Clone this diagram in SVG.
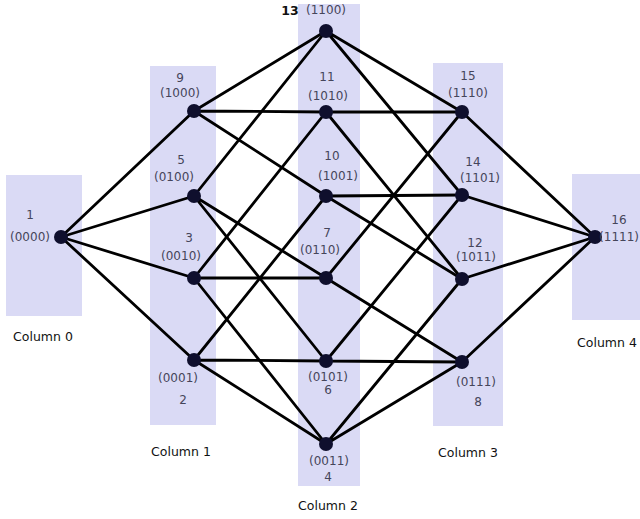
<svg xmlns="http://www.w3.org/2000/svg" width="640" height="519" viewBox="0 0 640 519">
<style>
.col{fill:#dadaf5}
.e{stroke:#000;stroke-width:2.8;fill:none;stroke-linecap:round}
.n{fill:#0f0f2d}
.t{font-family:"DejaVu Sans",sans-serif;font-size:12px;fill:#45455a;text-anchor:middle}
.c{font-family:"DejaVu Sans",sans-serif;font-size:12.5px;fill:#111;text-anchor:middle}
</style>
<rect width="640" height="519" fill="#fff"/>
<g id="columns">
<rect class="col" x="6" y="175" width="76" height="141"/>
<rect class="col" x="150" y="66" width="66" height="359"/>
<rect class="col" x="298" y="4" width="62" height="482"/>
<rect class="col" x="433" y="63" width="70" height="363"/>
<rect class="col" x="572" y="174" width="68" height="146"/>
</g>
<g id="connectors">
<path class="e" d="M61,237 L194,111 M61,237 L194,196 M61,237 L194,278 M61,237 L194,360"/>
<path class="e" d="M194,111 L326,31 M194,111 L326,112 M194,111 L326,196"/>
<path class="e" d="M194,196 L326,31 M194,196 L326,278 M194,196 L326,361"/>
<path class="e" d="M194,278 L326,112 M194,278 L326,278 M194,278 L326,444"/>
<path class="e" d="M194,360 L326,196 M194,360 L326,361 M194,360 L326,444"/>
<path class="e" d="M326,31 L462,112 M326,31 L462,195"/>
<path class="e" d="M326,112 L462,112 M326,112 L462,279"/>
<path class="e" d="M326,196 L462,195 M326,196 L462,279"/>
<path class="e" d="M326,278 L462,112 M326,278 L462,362"/>
<path class="e" d="M326,361 L462,195 M326,361 L462,362"/>
<path class="e" d="M326,444 L462,279 M326,444 L462,362"/>
<path class="e" d="M462,112 L595,237 M462,195 L595,237 M462,279 L595,237 M462,362 L595,237"/>
</g>
<g id="n1"><circle class="n" cx="61" cy="237" r="7"/><text class="t" x="30" y="219">1</text><text class="t" x="30" y="241">(0000)</text></g>
<g id="n9"><circle class="n" cx="194" cy="111" r="7"/><text class="t" x="180" y="82">9</text><text class="t" x="180" y="97">(1000)</text></g>
<g id="n5"><circle class="n" cx="194" cy="196" r="7"/><text class="t" x="181" y="164">5</text><text class="t" x="174" y="181">(0100)</text></g>
<g id="n3"><circle class="n" cx="194" cy="278" r="7"/><text class="t" x="189" y="242">3</text><text class="t" x="181" y="260">(0010)</text></g>
<g id="n2"><circle class="n" cx="194" cy="360" r="7"/><text class="t" x="178" y="382">(0001)</text><text class="t" x="183" y="404">2</text></g>
<g id="n13"><circle class="n" cx="326" cy="31" r="7"/><text class="c" x="290" y="15" font-weight="bold">13</text><text class="t" x="326" y="14">(1100)</text></g>
<g id="n11"><circle class="n" cx="326" cy="112" r="7"/><text class="t" x="327" y="81">11</text><text class="t" x="328" y="100">(1010)</text></g>
<g id="n10"><circle class="n" cx="326" cy="196" r="7"/><text class="t" x="332" y="160">10</text><text class="t" x="338" y="180">(1001)</text></g>
<g id="n7"><circle class="n" cx="326" cy="278" r="7"/><text class="t" x="327" y="237">7</text><text class="t" x="320" y="254">(0110)</text></g>
<g id="n6"><circle class="n" cx="326" cy="361" r="7"/><text class="t" x="328" y="381">(0101)</text><text class="t" x="328" y="394">6</text></g>
<g id="n4"><circle class="n" cx="326" cy="444" r="7"/><text class="t" x="329" y="465">(0011)</text><text class="t" x="328" y="481">4</text></g>
<g id="n15"><circle class="n" cx="462" cy="112" r="7"/><text class="t" x="468" y="80">15</text><text class="t" x="468" y="97">(1110)</text></g>
<g id="n14"><circle class="n" cx="462" cy="195" r="7"/><text class="t" x="473" y="166">14</text><text class="t" x="480" y="182">(1101)</text></g>
<g id="n12"><circle class="n" cx="462" cy="279" r="7"/><text class="t" x="475" y="247">12</text><text class="t" x="476" y="261">(1011)</text></g>
<g id="n8"><circle class="n" cx="462" cy="362" r="7"/><text class="t" x="476" y="386">(0111)</text><text class="t" x="478" y="406">8</text></g>
<g id="n16"><circle class="n" cx="595" cy="237" r="7"/><text class="t" x="619" y="224">16</text><text class="t" x="639" y="241" style="text-anchor:end">(1111)</text></g>
<g id="labels">
<text class="c" x="43" y="341">Column 0</text>
<text class="c" x="181" y="456">Column 1</text>
<text class="c" x="328" y="510">Column 2</text>
<text class="c" x="468" y="457">Column 3</text>
<text class="c" x="607" y="347">Column 4</text>
</g>
</svg>
